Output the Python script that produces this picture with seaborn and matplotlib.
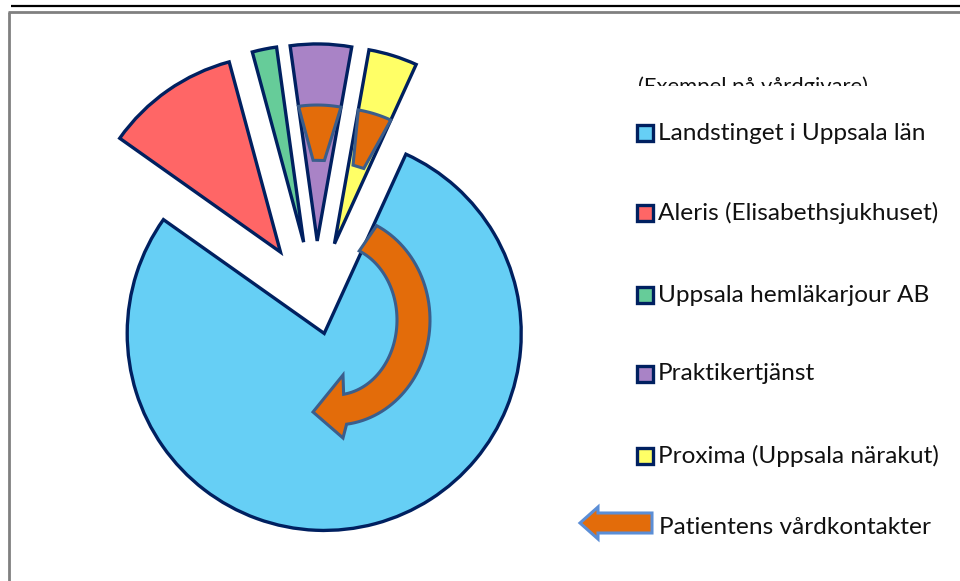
import numpy as np
import matplotlib
matplotlib.use("Agg")
import matplotlib.pyplot as plt
import seaborn as sns
from matplotlib.patches import Polygon, Rectangle
from matplotlib.transforms import Bbox, TransformedBbox

# ---- data -------------------------------------------------------------
categories = ["Landstinget i Uppsala län", "Aleris (Elisabethsjukhuset)",
              "Uppsala hemläkarjour AB", "Praktikertjänst",
              "Proxima (Uppsala närakut)"]
shares = [78, 11, 2, 5, 4]
colors = ["#66CFF5", "#FF6666", "#66CC99", "#A983C6", "#FFFF66"]
explode_frac = [0.16, 0.315, 0.315, 0.315, 0.315]
legend_title = "(Exempel på vårdgivare)"
arrow_label = "Patientens vårdkontakter"

# ---- style ------------------------------------------------------------
sns.set_theme(style="white")
plt.rcParams['font.family'] = ['Lato', 'DejaVu Sans']
NAVY = "#002060"
ORANGE = "#E36C0A"
ARROW_EDGE = "#3B5E8C"
LEG_ARROW_EDGE = "#5B8ED6"

fig = plt.figure(figsize=(9.6, 5.81), dpi=100)
ax = fig.add_axes([0, 0, 1, 1])
palette = sns.color_palette(colors)

RADIUS = 197
wedges, _ = ax.pie(shares, colors=palette,
                   explode=[e * RADIUS for e in explode_frac],
                   startangle=65.5, counterclock=False,
                   center=(316, -303), radius=RADIUS,
                   wedgeprops=dict(edgecolor=NAVY, linewidth=2.4))
ax.set_xlim(0, 960)
ax.set_ylim(-581, 0)
ax.set_aspect('auto')
ax.axis('off')

def P(x, y):
    """pixel coords (y down) -> data coords"""
    return (x, -y)

# ---- big curved arrow inside the blue slice ---------------------------
cx, cy = 335, 320
a_in, b_in = 62, 75
a_out, b_out = 95, 105
t_out = np.radians(np.linspace(-64, 83, 60))
t_in = np.radians(np.linspace(82, -67, 60))
pts = [P(cx + a_out*np.cos(t), cy + b_out*np.sin(t)) for t in t_out]
pts += [P(cx + 8, cy + 118), P(cx - 22, cy + 92), P(cx + 8, cy + 55)]
pts += [P(cx + a_in*np.cos(t), cy + b_in*np.sin(t)) for t in t_in]
ax.add_patch(Polygon(pts, closed=True, facecolor=ORANGE, edgecolor=ARROW_EDGE,
                     linewidth=2.2, zorder=5))

# ---- small arrow pieces inside purple and yellow slices ---------------
for w in (wedges[3], wedges[4]):
    c = np.array(w.center)
    R = w.r
    th1, th2 = w.theta1, w.theta2
    mid = 0.5*(th1 + th2)
    arc = np.radians(np.linspace(th1, th2, 20))
    poly = [tuple(c + 0.69*R*np.array([np.cos(a), np.sin(a)])) for a in arc]
    for a in (mid + 4, mid - 4):
        ar = np.radians(a)
        poly.append(tuple(c + 0.41*R*np.array([np.cos(ar), np.sin(ar)])))
    ax.add_patch(Polygon(poly, closed=True, facecolor=ORANGE,
                         edgecolor=ARROW_EDGE, linewidth=2.2, zorder=5))

# ---- legend -----------------------------------------------------------
FS = 17.6
title = ax.text(*P(638, 76), legend_title, ha='left', va='top', fontsize=15.8,
                color='#111111')
title.set_clip_box(TransformedBbox(Bbox([[600, -86], [960, 0]]), ax.transData))
title.set_clip_on(True)

leg_y = [133, 213, 295, 374, 456]
for lab, col, yc in zip(categories, palette, leg_y):
    ax.add_patch(Rectangle(P(637, yc + 8), 16, 16, facecolor=col,
                           edgecolor=NAVY, linewidth=2.4, zorder=6))
    ax.text(*P(658, yc), lab, ha='left', va='center', fontsize=FS,
            color='#111111')

ya = 523
arrow_pts = [P(580, ya), P(598, ya - 16), P(598, ya - 10), P(652, ya - 10),
             P(652, ya + 10), P(598, ya + 10), P(598, ya + 16)]
ax.add_patch(Polygon(arrow_pts, closed=True, facecolor=ORANGE,
                     edgecolor=LEG_ARROW_EDGE, linewidth=2.2, zorder=6))
ax.text(*P(659, 527), arrow_label, ha='left', va='center', fontsize=FS,
        color='#111111')

# ---- frame lines ------------------------------------------------------
ax.plot([8.5, 8.5], [-12, -581], color='#808080', lw=2, solid_capstyle='butt')
ax.plot([8, 960], [-12, -12], color='#808080', lw=2, solid_capstyle='butt')
ax.plot([11, 960], [-6, -6], color='black', lw=1.6, solid_capstyle='butt')

fig.savefig("out.png", dpi=100)
